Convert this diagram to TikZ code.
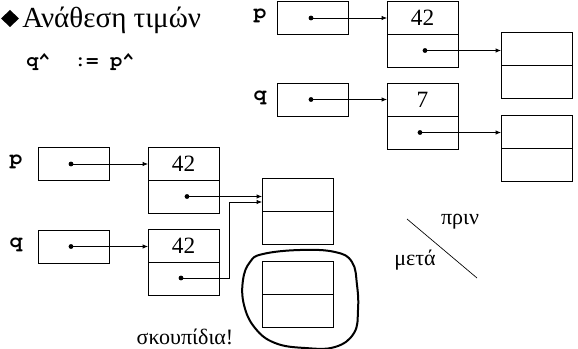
\documentclass[tikz,border=0pt]{standalone}
\usepackage{fontspec}
\setmainfont{Liberation Serif}
\newfontfamily\codefont{texgyrecursor}[Extension=.otf,UprightFont=*-regular,BoldFont=*-bold]
\usetikzlibrary{arrows.meta}
\begin{document}
\begin{tikzpicture}[x=0.75pt,y=-0.75pt,
  cell/.style={draw,line width=0.6pt,minimum width=53.25pt,minimum height=24.75pt,inner sep=0pt,outer sep=0pt,font=\fontsize{17.5}{17.5}\selectfont},
  ptr/.style={cell,minimum width=53pt},
  dot/.style={circle,fill=black,inner sep=0pt,minimum size=3.6pt},
  lbl/.style={font=\codefont\bfseries\fontsize{16}{16}\selectfont,inner sep=0pt},
  txt/.style={font=\fontsize{16.5}{16.5}\selectfont,inner sep=0pt},
  link/.style={line width=0.5pt,-{Latex[length=4pt,width=3.2pt]}},
  blob/.style={line width=1.5pt}]
\useasboundingbox (0,0) rectangle (578,349);

% title
\fill (1,18.5) -- (10,10) -- (19,18.5) -- (10,27) -- cycle;
\node[anchor=base west,inner sep=0pt,font=\fontsize{21.8}{21}\selectfont] (title) at (22,28) {Ανάθεση τιμών};
\node[anchor=base west,lbl,font=\codefont\bfseries\fontsize{15}{15}\selectfont] (code) at (26,67) {q\textasciicircum\ \ :=\ p\textasciicircum};

% before (top right)
\node[lbl] (lp1) at (260,16) {p};
\node[ptr] (pA) at (313,18) {};
\node[cell] (A1) at (422.5,17.5) {42};
\node[cell] (A2) at (422.5,50.5) {};
\node[cell] (R1a) at (536.5,48.5) {};
\node[cell] (R1b) at (536.5,81.5) {};
\node[lbl] (lq1) at (260,97.5) {q};
\node[ptr] (qA) at (313,99.5) {};
\node[cell] (B1) at (422.5,99.5) {7};
\node[cell] (B2) at (422.5,132.5) {};
\node[cell] (R2a) at (536.5,131.5) {};
\node[cell] (R2b) at (536.5,164.5) {};

\node[dot] (dpA) at (311,18) {};
\node[dot] (dA) at (425,50.5) {};
\node[dot] (dqA) at (311,99.5) {};
\node[dot] (dB) at (420,132.5) {};
\draw[link] (dpA.center) -- (dpA.center -| A1.west);
\draw[link] (dA.center) -- (dA.center -| R1a.west);
\draw[link] (dqA.center) -- (dqA.center -| B1.west);
\draw[link] (dB.center) -- (dB.center -| R2a.west);

% after (bottom left)
\node[lbl] (lp2) at (16,162) {p};
\node[ptr] (pB) at (74,164) {};
\node[cell] (C1) at (183.5,163.5) {42};
\node[cell] (C2) at (183.5,196.5) {};
\node[cell] (S1) at (297.5,195) {};
\node[cell] (S2) at (297.5,228) {};
\node[lbl] (lq2) at (16,244.5) {q};
\node[ptr] (qB) at (74,246.5) {};
\node[cell] (D1) at (183.5,246) {42};
\node[cell] (D2) at (183.5,279) {};
\node[cell] (G1) at (297.5,278) {};
\node[cell] (G2) at (297.5,311) {};

\node[dot] (dpB) at (71,164) {};
\node[dot] (dC) at (187,196.5) {};
\node[dot] (dqB) at (71,246.5) {};
\node[dot] (dD) at (181,278) {};
\coordinate (bend) at (229,202);
\draw[link] (dpB.center) -- (dpB.center -| C1.west);
\draw[link] (dC.center) -- (dC.center -| S1.west);
\draw[link] (dqB.center) -- (dqB.center -| D1.west);
\draw[link] (dD.center) -| (bend) -- (bend -| S1.west);

% garbage loop
\draw[blob] plot[smooth cycle,tension=0.7] coordinates {(263,254) (300,250) (335,252) (352,262) (357,285) (358,310) (354,333) (335,347) (305,348) (275,343) (255,328) (244,305) (243,280) (250,262)};
\node[txt] (garb) at (185,337) {σκουπίδια!};

% before / after
\coordinate (s1) at (407,219);
\coordinate (s2) at (477,278);
\draw[line width=0.5pt] (s1) -- (s2);
\node[txt] (prin) at (460,222) {πριν};
\node[txt] (meta) at (415,260) {μετά};
\end{tikzpicture}
\end{document}
